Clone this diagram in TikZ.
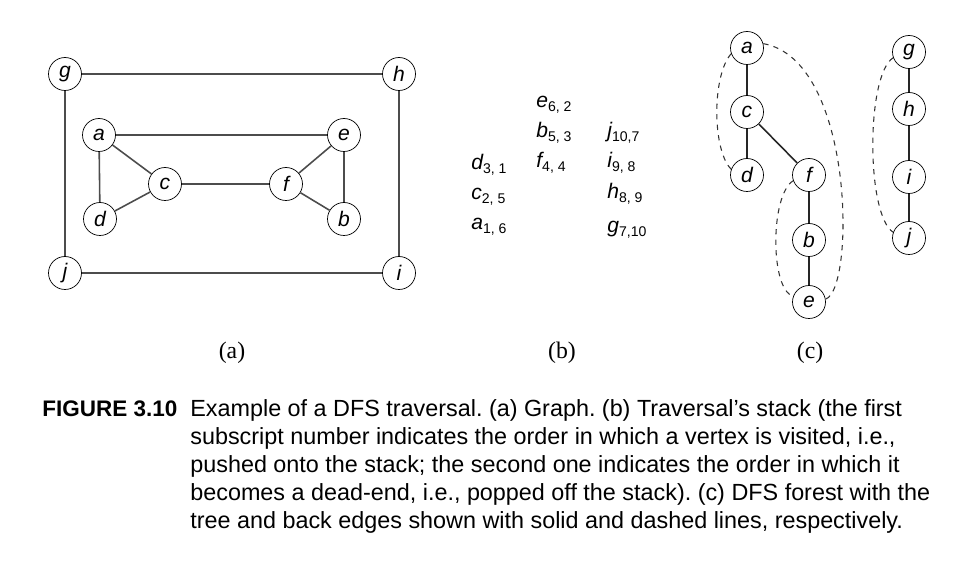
\documentclass[tikz,border=0pt]{standalone}
\usepackage{fontspec}
\setmainfont{Liberation Sans}
\newfontfamily\serifpart{Liberation Serif}
\frenchspacing
\begin{document}
\begin{tikzpicture}[
        x=0.02cm, y=-0.02cm,
        vertex/.style={draw, circle, minimum size=0.66cm, inner sep=0pt, font=\fontsize{12}{14}\selectfont\itshape},
        graphedge/.style={draw=black!70, line width=0.9pt},
        treeedge/.style={draw=black!85, line width=0.9pt},
        backedge/.style={draw=black!80, dashed, line width=0.6pt},
        stackitem/.style={anchor=base west, inner sep=0pt, font=\fontsize{12}{14}\selectfont},
        partlabel/.style={font=\serifpart\fontsize{13.5}{16}\selectfont}
    ]
    \useasboundingbox (0,0) rectangle (959,563);

    % (a) the graph
    \node[vertex] (g) at (65,74) {g};
    \node[vertex] (h) at (399,74) {h};
    \node[vertex] (j) at (65,273) {j};
    \node[vertex] (i) at (399,273) {i};
    \node[vertex] (a) at (99,135) {a};
    \node[vertex] (e) at (344,135) {e};
    \node[vertex] (c) at (165,184) {c};
    \node[vertex] (f) at (286,184) {f};
    \node[vertex] (d) at (100,219) {d};
    \node[vertex] (b) at (344,219) {b};

    \draw[graphedge] (g) -- (h);
    \draw[graphedge] (g) -- (j);
    \draw[graphedge] (h) -- (i);
    \draw[graphedge] (j) -- (i);
    \draw[graphedge] (a) -- (e);
    \draw[graphedge] (a) -- (c);
    \draw[graphedge] (a) -- (d);
    \draw[graphedge] (c) -- (d);
    \draw[graphedge] (c) -- (f);
    \draw[graphedge] (f) -- (e);
    \draw[graphedge] (f) -- (b);
    \draw[graphedge] (e) -- (b);

    % (b) the stack
    \node[stackitem] (s1) at (471,170) {\itshape d\textsubscript{\upshape 3, 1}};
    \node[stackitem] (s2) at (471,200) {\itshape c\textsubscript{\upshape 2, 5}};
    \node[stackitem] (s3) at (471,230) {\itshape a\textsubscript{\upshape 1, 6}};
    \node[stackitem] (s4) at (536,108) {\itshape e\textsubscript{\upshape 6, 2}};
    \node[stackitem] (s5) at (536,138) {\itshape b\textsubscript{\upshape 5, 3}};
    \node[stackitem] (s6) at (536,168) {\itshape f\textsubscript{\upshape 4, 4}};
    \node[stackitem] (s7) at (607,138) {\itshape j\textsubscript{\upshape 10,7}};
    \node[stackitem] (s8) at (607,168) {\itshape i\textsubscript{\upshape 9, 8}};
    \node[stackitem] (s9) at (607,199) {\itshape h\textsubscript{\upshape 8, 9}};
    \node[stackitem] (s10) at (607,233) {\itshape g\textsubscript{\upshape 7,10}};

    % (c) the DFS forest
    \node[vertex] (ta) at (747,48) {a};
    \node[vertex] (tc) at (747,112) {c};
    \node[vertex] (td) at (747,175) {d};
    \node[vertex] (tf) at (809,175) {f};
    \node[vertex] (tb) at (809,240) {b};
    \node[vertex] (te) at (809,302) {e};
    \node[vertex] (tg) at (909,52) {g};
    \node[vertex] (th) at (909,109) {h};
    \node[vertex] (ti) at (909,177) {i};
    \node[vertex] (tj) at (909,238) {j};

    \draw[treeedge] (ta) -- (tc);
    \draw[treeedge] (tc) -- (td);
    \draw[treeedge] (tc) -- (tf);
    \draw[treeedge] (tf) -- (tb);
    \draw[treeedge] (tb) -- (te);
    \draw[treeedge] (tg) -- (th);
    \draw[treeedge] (th) -- (ti);
    \draw[treeedge] (ti) -- (tj);

    \draw[backedge] (ta.200) .. controls (712,75) and (712,150) .. (td.160);
    \draw[backedge] (ta.15) .. controls (855,60) and (855,290) .. (te.10);
    \draw[backedge] (tf.200) .. controls (770,195) and (770,290) .. (te.160);
    \draw[backedge] (tg.200) .. controls (866,75) and (866,215) .. (tj.160);

    % part labels
    \node[partlabel] (la) at (232,353) {(a)};
    \node[partlabel] (lb) at (562,353) {(b)};
    \node[partlabel] (lc) at (810,353) {(c)};

    % caption
    \node[anchor=base west, inner sep=0pt, font=\fontsize{12.8}{15.9}\selectfont\bfseries] (fig) at (42,417) {FIGURE 3.10};
    \node[anchor=base west, inner sep=0pt, align=left, font=\fontsize{13.3}{15.9}\selectfont] (cap) at (190,528)
        {Example of a DFS traversal. (a) Graph. (b) Traversal’s stack (the first\\
         subscript number indicates the order in which a vertex is visited, i.e.,\\
         pushed onto the stack; the second one indicates the order in which it\\
         becomes a dead-end, i.e., popped off the stack). (c) DFS forest with the\\
         tree and back edges shown with solid and dashed lines, respectively.};
\end{tikzpicture}
\end{document}
